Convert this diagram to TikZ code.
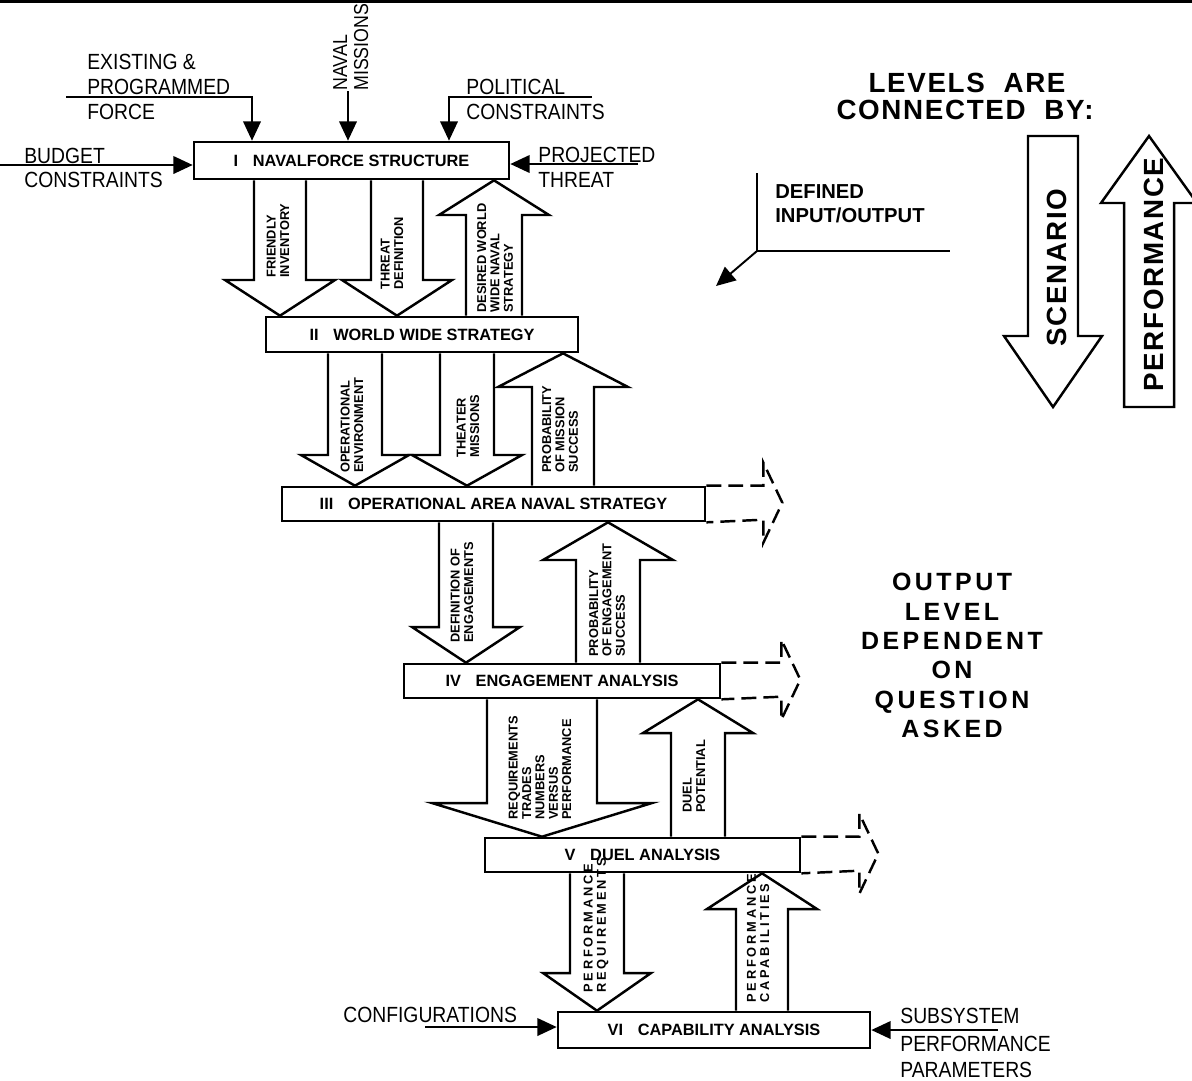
\documentclass[tikz,border=0pt]{standalone}
\usepackage{fontspec}
\setmainfont{Liberation Sans}
\newfontfamily\narrowsans[FakeStretch=0.88]{Liberation Sans}
\newfontfamily\spacedsans[LetterSpace=22]{Liberation Sans}
\newfontfamily\titlesans[LetterSpace=6]{Liberation Sans}
\newfontfamily\widesans[LetterSpace=14]{Liberation Sans}
\usetikzlibrary{arrows.meta}

% one pixel of the 1192x1080 page
\newcommand{\pxu}{0.02cm}
\newcommand{\inputfont}{\narrowsans\fontsize{12.5}{15}\selectfont}
\newcommand{\levelfont}{\bfseries\fontsize{9.3}{11}\selectfont}
\newcommand{\flowfont}{\bfseries\fontsize{7.3}{7.6}\selectfont}

% hollow block arrows between two level boxes
% #1 from box, #2 to box, #3 x, #4 shaft half width, #5 head half width, #6 head y
\newcommand{\downflow}[6]{%
  \draw[blockarrow] ({#3-#4},0 |- #1.south) -- ({#3-#4},#6) -- ({#3-#5},#6)
    -- (#3,0 |- #2.north) -- ({#3+#5},#6) -- ({#3+#4},#6) -- ({#3+#4},0 |- #1.south);}
\newcommand{\upflow}[6]{%
  \draw[blockarrow] ({#3-#4},0 |- #1.north) -- ({#3-#4},#6) -- ({#3-#5},#6)
    -- (#3,0 |- #2.south) -- ({#3+#5},#6) -- ({#3+#4},#6) -- ({#3+#4},0 |- #1.north);}
% dashed open output to the right of a box
\newcommand{\levelout}[2]{%
  \draw[openarrow] (#1.north east) -- ++(#2,0) -- ++(0,-23) -- ++(19,40) -- ++(-19,40)
    -- ++(0,-23) -- (#1.south east);}

\tikzset{
  levelbox/.style={draw, fill=white, line width=1.5pt, inner sep=0pt, font=\levelfont},
  blockarrow/.style={draw, fill=white, line width=1.4pt, line join=miter},
  openarrow/.style={line width=1.4pt, dash pattern=on 8.5pt off 4pt},
  inarrow/.style={line width=1.1pt, -{Triangle[length=11pt,width=10pt]}},
  inlabel/.style={font=\inputfont, anchor=base west, inner sep=0pt},
  flowlabel/.style={font=\flowfont, rotate=90, anchor=west, align=left, inner sep=0pt},
  spacedlabel/.style={flowlabel, font=\spacedsans\flowfont},
}

\begin{document}
\begin{tikzpicture}[x=\pxu, y=-\pxu]
  \useasboundingbox (0,0) rectangle (1192,1080);
  \draw[line width=1.7pt] (0,1.5) -- (1192,1.5);

  % level boxes
  \node[levelbox, minimum width=315*\pxu, minimum height=37*\pxu] (box1) at (351.5,160.5)
    {I\hspace{0.9em}NAVALFORCE STRUCTURE};
  \node[levelbox, minimum width=312*\pxu, minimum height=35*\pxu] (box2) at (422,334.5)
    {II\hspace{0.9em}WORLD WIDE STRATEGY};
  \node[levelbox, minimum width=423*\pxu, minimum height=34*\pxu] (box3) at (493.5,504)
    {III\hspace{0.9em}OPERATIONAL AREA NAVAL STRATEGY};
  \node[levelbox, minimum width=316*\pxu, minimum height=34*\pxu] (box4) at (562,681)
    {IV\hspace{0.9em}ENGAGEMENT ANALYSIS};
  \node[levelbox, minimum width=315*\pxu, minimum height=34*\pxu] (box5) at (642.5,855)
    {V\hspace{0.9em}DUEL ANALYSIS};
  \node[levelbox, minimum width=312*\pxu, minimum height=36*\pxu] (box6) at (714,1030)
    {VI\hspace{0.9em}CAPABILITY ANALYSIS};

  % inputs to level I
  \node[inlabel] (existing) at (87,69) {EXISTING \&};
  \node[inlabel] (programmed) at (87,94) {PROGRAMMED};
  \node[inlabel] (force) at (87,119) {FORCE};
  \coordinate (forcestart) at (66,97);
  \draw[inarrow] (forcestart) -| (box1.north -| 252,0);

  \node[inlabel, font=\narrowsans\fontsize{11.5}{14}\selectfont, rotate=90] (naval) at (347,91) {NAVAL};
  \node[inlabel, font=\narrowsans\fontsize{11.5}{14}\selectfont, rotate=90] (missions) at (368,91) {MISSIONS};
  \coordinate (navalstart) at (348,91);
  \draw[inarrow] (navalstart) -- (box1.north -| navalstart);

  \node[inlabel] (political) at (466,94) {POLITICAL};
  \node[inlabel] (politicalcons) at (466,119) {CONSTRAINTS};
  \coordinate (politicalstart) at (592,97);
  \draw[inarrow] (politicalstart) -| (box1.north -| 449,0);

  \node[inlabel] (budget) at (24,163) {BUDGET};
  \node[inlabel] (budgetcons) at (24,187) {CONSTRAINTS};
  \coordinate (budgetstart) at (0,165);
  \draw[inarrow] (budgetstart) -- (box1.west |- budgetstart);

  \node[inlabel] (projected) at (538,162) {PROJECTED};
  \node[inlabel] (threat) at (538,187) {THREAT};
  \coordinate (threatstart) at (638,164);
  \draw[inarrow] (threatstart) -- (box1.east |- threatstart);

  % inputs to level VI
  \node[inlabel] (configs) at (343,1022) {CONFIGURATIONS};
  \coordinate (configstart) at (425,1027);
  \draw[inarrow] (configstart) -- (box6.west |- configstart);

  \node[inlabel] (subsystem) at (900,1023) {SUBSYSTEM};
  \node[inlabel] (subperf) at (900,1051) {PERFORMANCE};
  \node[inlabel] (subparam) at (900,1077) {PARAMETERS};
  \coordinate (subsysstart) at (998,1030);
  \draw[inarrow] (subsysstart) -- (box6.east |- subsysstart);

  % scenario and performance flows
  \downflow{box1}{box2}{280}{26}{55}{280}
  \downflow{box1}{box2}{397}{26}{55}{280}
  \upflow{box2}{box1}{494}{28}{55}{215}
  \downflow{box2}{box3}{355}{27}{54}{455}
  \downflow{box2}{box3}{467}{27}{55}{455}
  \upflow{box3}{box2}{563}{31}{65}{387}
  \downflow{box3}{box4}{466}{27}{54}{627}
  \upflow{box4}{box3}{608}{32}{65}{560}
  \downflow{box4}{box5}{542}{55}{110}{803}
  \upflow{box5}{box4}{698}{27}{55}{733}
  \downflow{box5}{box6}{597}{27}{54}{973}
  \upflow{box6}{box5}{762}{26}{55}{909}

  \node[flowlabel] (friendly) at (278,278) {FRIENDLY\\INVENTORY};
  \node[flowlabel] (threatdef) at (392,290) {THREAT\\DEFINITION};
  \node[flowlabel] (desired) at (495,313) {DESIRED WORLD\\WIDE NAVAL\\STRATEGY};
  \node[flowlabel] (openv) at (352,473) {OPERATIONAL\\ENVIRONMENT};
  \node[flowlabel] (theater) at (468,458) {THEATER\\MISSIONS};
  \node[flowlabel] (probmission) at (560,473) {PROBABILITY\\OF MISSION\\SUCCESS};
  \node[flowlabel] (defeng) at (462,643) {DEFINITION OF\\ENGAGEMENTS};
  \node[flowlabel] (probeng) at (607,657) {PROBABILITY\\OF ENGAGEMENT\\SUCCESS};
  \node[flowlabel] (trades) at (540,820) {REQUIREMENTS\\TRADES\\NUMBERS\\VERSUS\\PERFORMANCE};
  \node[flowlabel] (duel) at (694,813) {DUEL\\POTENTIAL};
  \node[spacedlabel] (perfreq) at (596,993) {PERFORMANCE\\REQUIREMENTS};
  \node[spacedlabel] (perfcap) at (758,1003) {PERFORMANCE\\CAPABILITIES};

  % outputs depending on the question
  \levelout{box3}{57}
  \levelout{box4}{60}
  \levelout{box5}{58}

  % legend
  \node[font=\titlesans\bfseries\fontsize{15.8}{18}\selectfont, anchor=base, inner sep=0pt]
    (levelsare) at (967,92) {LEVELS\ \ ARE};
  \node[font=\titlesans\bfseries\fontsize{15.8}{18}\selectfont, anchor=base, inner sep=0pt]
    (connected) at (965,119) {CONNECTED\ \ BY:};

  \node[font=\bfseries\fontsize{11.5}{13}\selectfont, anchor=base west, inner sep=0pt]
    (defined) at (775,198) {DEFINED};
  \node[font=\bfseries\fontsize{11.5}{13}\selectfont, anchor=base west, inner sep=0pt]
    (inout) at (775,222) {INPUT/OUTPUT};
  \coordinate (iotop) at (757,173);
  \coordinate (iocorner) at (757,251);
  \coordinate (ioright) at (950,251);
  \coordinate (iotip) at (716,286);
  \draw[line width=1.1pt] (iotop) -- (iocorner) -- (ioright);
  \draw[inarrow] (iocorner) -- (iotip);

  \draw[blockarrow] (1028,136) -- (1078,136) -- (1078,336) -- (1102,336) -- (1053,407)
    -- (1004,336) -- (1028,336) -- cycle;
  \draw[blockarrow] (1124,407) -- (1174,407) -- (1174,203) -- (1197,203) -- (1149,136)
    -- (1101,203) -- (1124,203) -- cycle;
  \node[font=\titlesans\bfseries\fontsize{15.8}{18}\selectfont, rotate=90, anchor=west, inner sep=0pt]
    (scenario) at (1057,347) {SCENARIO};
  \node[font=\titlesans\bfseries\fontsize{15.8}{18}\selectfont, rotate=90, anchor=west, inner sep=0pt]
    (performance) at (1154,392) {PERFORMANCE};

  \node[font=\widesans\bfseries\fontsize{14.2}{16.7}\selectfont, align=center, anchor=north, inner sep=0pt]
    (dependent) at (952,573) {OUTPUT\\LEVEL\\DEPENDENT\\ON\\QUESTION\\ASKED};
\end{tikzpicture}
\end{document}
